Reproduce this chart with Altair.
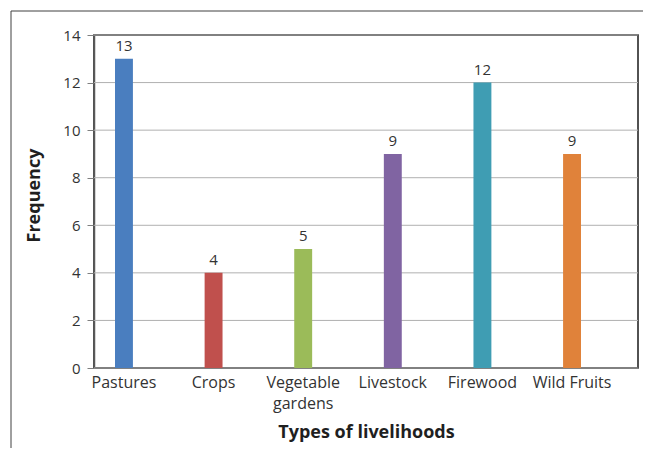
import altair as alt
import pandas as pd

categories = ["Pastures", "Crops", "Vegetable gardens", "Livestock", "Firewood", "Wild Fruits"]
values = [13, 4, 5, 9, 12, 9]
colors = ["#4a7ebf", "#c0504d", "#9bbb59", "#8064a2", "#3f9db3", "#e0823a"]
y_ticks = [0, 2, 4, 6, 8, 10, 12, 14]

df = pd.DataFrame({"cat": categories, "val": values})
grid_df = pd.DataFrame({"tick": y_ticks})
FONT = "Open Sans"
W, H = 544, 333
TXT = "#333333"

x_enc = alt.X(
    "cat:N",
    sort=categories,
    scale=alt.Scale(range=[21.0, 487.0], paddingInner=0.8, paddingOuter=0),
    axis=alt.Axis(
        title="Types of livelihoods",
        titleFont=FONT, titleFontSize=18, titleFontWeight="bold", titleColor="#1f1f1f",
        titleBaseline="top", titleY=55, titleX=272,
        labelFont=FONT, labelFontSize=16, labelColor=TXT, labelAngle=0,
        labelPadding=6, labelLineHeight=21,
        labelExpr="datum.label == 'Vegetable gardens' ? ['Vegetable', 'gardens'] : datum.label",
        ticks=False, domain=False, grid=False,
    ),
)
y_axis = alt.Axis(
    title="Frequency", values=y_ticks,
    titleFont=FONT, titleFontSize=18, titleFontWeight="bold", titleColor="#1f1f1f",
    titleX=-60, titleY=160, titleBaseline="middle", titleAngle=-90,
    labelFont=FONT, labelFontSize=15, labelColor=TXT, labelPadding=7,
    tickSize=7, tickColor="#7f7f7f", domainColor="#595959", domainWidth=1.5,
    grid=False,
)
y_scale = alt.Scale(domain=[0, 14], nice=False)

grid = alt.Chart(grid_df).mark_rule(color="#b0b0b0", strokeWidth=1).encode(
    y=alt.Y("tick:Q", scale=y_scale, axis=y_axis),
    x=alt.value(0), x2=alt.value(W),
)

bars = alt.Chart(df).mark_bar().encode(
    x=x_enc,
    y=alt.Y("val:Q", scale=y_scale, axis=y_axis),
    color=alt.Color("cat:N", sort=categories,
                    scale=alt.Scale(domain=categories, range=colors), legend=None),
)
labels = alt.Chart(df).mark_text(
    baseline="bottom", dy=-5, font=FONT, fontSize=15, color=TXT
).encode(x=alt.X("cat:N", sort=categories), y=alt.Y("val:Q", axis=y_axis), text="val:Q")

frame_df = pd.DataFrame({"k": [0]})
frame_v = alt.Chart(frame_df).mark_rule(color="#404040", strokeWidth=1).encode(
    x=alt.value(-83), y=alt.value(-24), y2=alt.value(600)
)
frame_h = alt.Chart(frame_df).mark_rule(color="#404040", strokeWidth=1).encode(
    x=alt.value(-83), x2=alt.value(800), y=alt.value(-24)
)

chart = alt.layer(grid, bars, labels, frame_v, frame_h).properties(
    width=W, height=H,
    autosize=alt.AutoSizeParams(type="none"),
    padding={"left": 86, "top": 27, "right": 5, "bottom": 80},
).configure_view(
    stroke="#1a1a1a", strokeWidth=1.5
)

chart.save("out.html", embed_options={"renderer": "svg", "actions": False})
